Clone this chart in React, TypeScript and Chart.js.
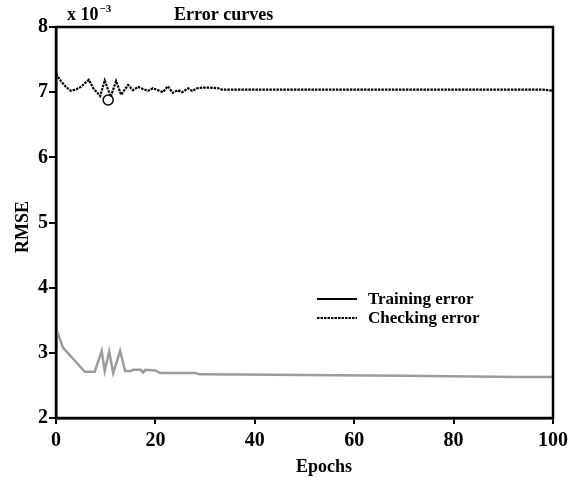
import { useEffect, useRef } from "react";
import { Chart, registerables } from "chart.js";

Chart.register(...registerables);

// RMSE values are in units of 10^-3
const checkEpochs = [0, 1, 2, 3, 4, 5, 6, 6.6, 7.5, 8.9, 9.8, 11, 12.1, 13.1, 14.5, 15.5, 16.5, 17.5, 18.5, 19.5, 20.5, 21.5, 22.5, 23.5, 24.5, 25.4, 26.6, 27.4, 28.4, 29.6, 31, 32.6, 33.4, 40, 50, 60, 70, 80, 90, 98, 100];
const checkRmse = [7.28, 7.17, 7.08, 7.02, 7.04, 7.08, 7.15, 7.19, 7.06, 6.94, 7.18, 6.93, 7.17, 6.96, 7.11, 7.03, 7.08, 7.05, 7.02, 7.06, 7.03, 7.0, 7.09, 6.99, 7.03, 7.0, 7.06, 7.02, 7.06, 7.07, 7.07, 7.06, 7.04, 7.04, 7.04, 7.04, 7.04, 7.04, 7.04, 7.04, 7.02];

const trainEpochs = [0, 1.4, 5.8, 7.8, 9.2, 9.8, 10.7, 11.5, 12.9, 13.9, 15, 15.5, 17, 17.5, 18, 20, 21, 28, 29, 50, 70, 93, 100];
const trainRmse = [3.38, 3.08, 2.71, 2.71, 3.03, 2.72, 3.02, 2.69, 3.03, 2.72, 2.72, 2.74, 2.74, 2.7, 2.74, 2.73, 2.69, 2.69, 2.67, 2.66, 2.65, 2.63, 2.63];

const checkMinEpoch = [10.5];
const checkMinRmse = [6.88];

const xRange = [0, 100];
const xStep = 20;
const yRange = [2, 8];
const yStep = 1;

const chartTitle = "Error curves";
const exponentBase = "x 10";
const exponentPower = "\u22123";
const xTitle = "Epochs";
const yTitle = "RMSE";
const legendLabels = ["Training error", "Checking error"];

const FONT = "'Liberation Serif', 'Times New Roman', serif";

const overlayPlugin = {
  id: "overlay",
  afterDraw(chart: any) {
    const { ctx, chartArea } = chart;
    const { left, right, top, bottom } = chartArea;
    ctx.save();
    // frame
    ctx.strokeStyle = "#000";
    ctx.lineWidth = 2.5;
    ctx.strokeRect(left, top, right - left, bottom - top);

    ctx.fillStyle = "#000";
    ctx.textBaseline = "alphabetic";
    ctx.textAlign = "left";
    // title
    ctx.font = `bold 18px ${FONT}`;
    ctx.fillText(chartTitle, 174, 20);
    // exponent
    ctx.fillText(exponentBase, 67, 20);
    const bw = ctx.measureText(exponentBase).width;
    ctx.font = `bold 11px ${FONT}`;
    ctx.fillText(exponentPower, 67 + bw + 1, 12);

    // x title
    ctx.font = `bold 18px ${FONT}`;
    ctx.textAlign = "center";
    ctx.fillText(xTitle, 324, 472);

    // y title
    ctx.save();
    ctx.translate(28, 227);
    ctx.rotate(-Math.PI / 2);
    ctx.textAlign = "center";
    ctx.fillText(yTitle, 0, 0);
    ctx.restore();

    // legend
    const lx0 = 317;
    const lx1 = 357;
    const ly = [299, 318];
    ctx.lineWidth = 2;
    ctx.strokeStyle = "#000";
    ctx.setLineDash([]);
    ctx.beginPath();
    ctx.moveTo(lx0, ly[0]);
    ctx.lineTo(lx1, ly[0]);
    ctx.stroke();
    ctx.setLineDash([2.5, 1]);
    ctx.beginPath();
    ctx.moveTo(lx0, ly[1]);
    ctx.lineTo(lx1, ly[1]);
    ctx.stroke();
    ctx.setLineDash([]);
    ctx.textAlign = "left";
    ctx.textBaseline = "middle";
    ctx.font = `bold 17px ${FONT}`;
    ctx.fillText(legendLabels[0], 368, ly[0] + 1);
    ctx.fillText(legendLabels[1], 368, ly[1] + 1);
    ctx.restore();
  },
};

export default function App() {
  const ref = useRef<HTMLCanvasElement | null>(null);

  useEffect(() => {
    if (!ref.current) return;
    const tickFont = { family: FONT, size: 20, weight: "bold" as const };
    const chart = new Chart(ref.current, {
      type: "line",
      data: {
        datasets: [
          {
            label: legendLabels[0],
            data: trainEpochs.map((x, i) => ({ x, y: trainRmse[i] })),
            borderColor: "#9c9c9c",
            borderWidth: 2.5,
            pointRadius: 0,
            tension: 0,
          },
          {
            label: legendLabels[1],
            data: checkEpochs.map((x, i) => ({ x, y: checkRmse[i] })),
            borderColor: "#000",
            borderWidth: 2.2,
            borderDash: [2.5, 1],
            pointRadius: 0,
            tension: 0,
          },
          {
            label: "min",
            data: checkMinEpoch.map((x, i) => ({ x, y: checkMinRmse[i] })),
            showLine: false,
            pointRadius: 5,
            pointStyle: "circle",
            pointBorderColor: "#000",
            pointBackgroundColor: "rgba(0,0,0,0)",
            pointBorderWidth: 1.5,
          },
        ],
      },
      options: {
        animation: false,
        responsive: false,
        layout: { padding: { top: 27, right: 31, left: 0, bottom: 0 } },
        plugins: { legend: { display: false }, tooltip: { enabled: false }, title: { display: false } },
        scales: {
          x: {
            type: "linear",
            min: xRange[0],
            max: xRange[1],
            ticks: { stepSize: xStep, font: tickFont, color: "#000", padding: 5, maxRotation: 0 },
            grid: { drawOnChartArea: false, drawTicks: true, tickLength: 6, color: "#000", lineWidth: 2 },
            border: { display: true, color: "#000", width: 2.5 },
            afterFit: (s: any) => {
              s.height = 60;
            },
          },
          y: {
            type: "linear",
            min: yRange[0],
            max: yRange[1],
            ticks: { stepSize: yStep, font: tickFont, color: "#000", padding: 1 },
            grid: { drawOnChartArea: false, drawTicks: true, tickLength: 7, color: "#000", lineWidth: 2 },
            border: { display: true, color: "#000", width: 2.5 },
            afterFit: (s: any) => {
              s.width = 56;
            },
          },
        },
      },
      plugins: [overlayPlugin],
    });
    return () => chart.destroy();
  }, []);

  return (
    <div style={{ position: "absolute", left: 0, top: 0, width: 584, height: 478, background: "#fff" }}>
      <canvas ref={ref} width={584} height={478} style={{ display: "block" }} />
    </div>
  );
}
